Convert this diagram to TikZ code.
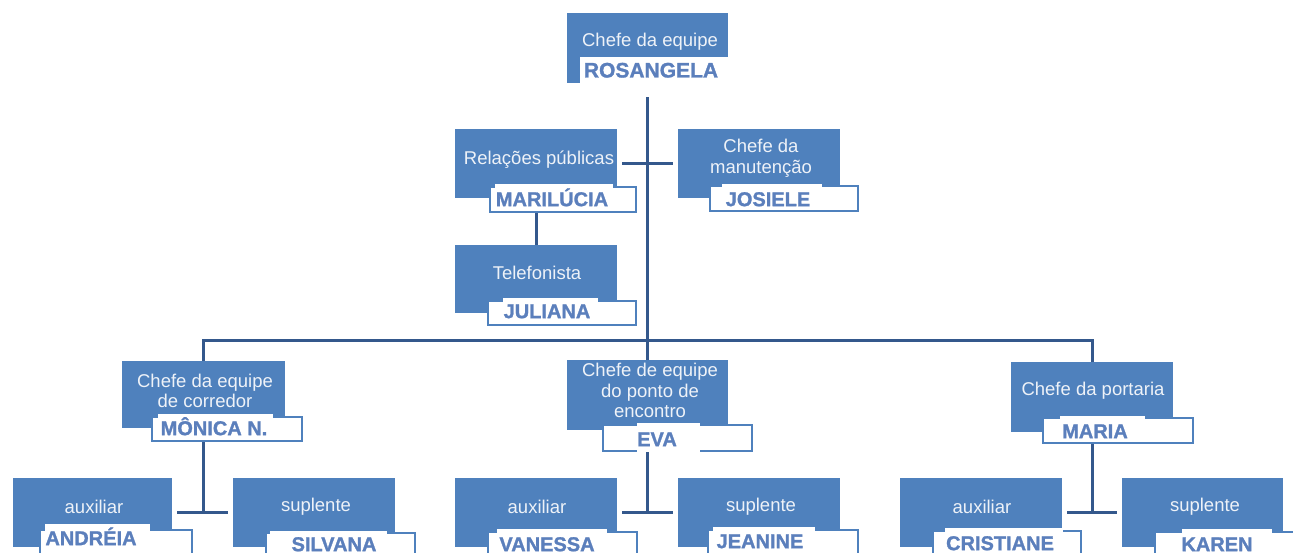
\documentclass[tikz,border=0pt]{standalone}
\usepackage{fontspec}
\setmainfont{Liberation Sans}
\newfontfamily\heavyfont[FakeBold=1.3]{Liberation Sans Bold}
\usetikzlibrary{fit}
\definecolor{boxblue}{HTML}{4F81BD}
\definecolor{namecol}{HTML}{5B7FBC}
\definecolor{linecol}{HTML}{34588C}
\definecolor{jobcol}{HTML}{EEF2F8}
\newcommand\jobsize{\fontsize{18.5}{20.5}\selectfont}
\newcommand\namesize{\fontsize{20}{22}\selectfont\heavyfont}
\begin{document}
\begin{tikzpicture}[x=1pt,y=-1pt,
  bluebox/.style={fill=boxblue, draw=none, inner sep=0pt},
  offbox/.style={fill=white, draw=boxblue, line width=2.5pt, inner sep=0pt},
  patch/.style={fill=white, draw=none, inner sep=0pt},
  jobtxt/.style={text=jobcol, font=\jobsize, align=center, inner sep=0pt},
  nametxt/.style={text=namecol, font=\namesize, inner sep=0pt, text height=14.3pt, text depth=0pt},
  conn/.style={draw=linecol, line width=3pt}]
\useasboundingbox (0,0) rectangle (1293,553);
\clip (0,0) rectangle (1293,553);

% top
\node[bluebox, fit={(567,13) (728,83)}] (top) {};
\node[patch, fit={(580,57) (731,86)}] (topP) {};
\node[jobtxt] (topT) at (650,42) {Chefe da equipe};
\node[nametxt, font=\fontsize{21}{23}\selectfont\heavyfont, text height=15pt] (topN) at (651,70) {ROSANGELA};

% relacoes publicas
\node[bluebox, fit={(455,129) (617,198)}] (rel) {};
\node[offbox, fit={(490,187) (636,212)}] (relB) {};
\node[patch, fit={(495,184) (613,210)}] (relP) {};
\node[jobtxt] (relT) at (539,160) {Relações públicas};
\node[nametxt] (relN) at (552,199) {MARILÚCIA};

% manutencao
\node[bluebox, fit={(678,129) (840,198)}] (man) {};
\node[offbox, fit={(710,186) (858,211)}] (manB) {};
\node[patch, fit={(722,184) (822,209)}] (manP) {};
\node[jobtxt] (manT) at (761,158.5) {Chefe da\\manutenção};
\node[nametxt] (manN) at (768,199) {JOSIELE};

% telefonista
\node[bluebox, fit={(455,245) (617,313)}] (tel) {};
\node[offbox, fit={(488,301) (636,325)}] (telB) {};
\node[patch, fit={(503,298) (598,322)}] (telP) {};
\node[jobtxt] (telT) at (537,273) {Telefonista};
\node[nametxt] (telN) at (547,311) {JULIANA};

% corredor
\node[bluebox, fit={(122,361) (285,428)}] (corr) {};
\node[offbox, fit={(152,417) (302,441)}] (corrB) {};
\node[patch, fit={(158,414) (273,440)}] (corrP) {};
\node[jobtxt] (corrT) at (205,391) {Chefe da equipe\\de corredor};
\node[nametxt] (corrN) at (214,428) {MÔNICA N.};

% ponto de encontro
\node[bluebox, fit={(567,360) (728,430)}] (eva) {};
\node[offbox, fit={(603,425) (752,451)}] (evaB) {};
\node[patch, fit={(637,423) (700,452)}] (evaP) {};
\node[jobtxt] (evaT) at (650,390.5) {Chefe de equipe\\do ponto de\\encontro};
\node[nametxt] (evaN) at (657,439) {EVA};

% portaria
\node[bluebox, fit={(1011,362) (1173,432)}] (maria) {};
\node[offbox, fit={(1043,418) (1193,443)}] (mariaB) {};
\node[patch, fit={(1060,416) (1145,442)}] (mariaP) {};
\node[jobtxt] (mariaT) at (1093,391) {Chefe da portaria};
\node[nametxt] (mariaN) at (1095,431) {MARIA};

% bottom row
\node[bluebox, fit={(13,478) (172,547)}] (and) {};
\node[offbox, fit={(40,530) (192,562)}] (andB) {};
\node[patch, fit={(45,524) (150,556)}] (andP) {};
\node[jobtxt] (andT) at (94,507) {auxiliar};
\node[nametxt] (andN) at (91,538) {ANDRÉIA};

\node[bluebox, fit={(233,478) (395,547)}] (sil) {};
\node[offbox, fit={(266,533) (415,562)}] (silB) {};
\node[patch, fit={(270,531) (387,556)}] (silP) {};
\node[jobtxt] (silT) at (316,507) {suplente};
\node[nametxt] (silN) at (334,544) {SILVANA};

\node[bluebox, fit={(455,478) (617,547)}] (van) {};
\node[offbox, fit={(488,532) (637,562)}] (vanB) {};
\node[patch, fit={(497,529) (607,556)}] (vanP) {};
\node[jobtxt] (vanT) at (537,507) {auxiliar};
\node[nametxt] (vanN) at (547,544) {VANESSA};

\node[bluebox, fit={(678,478) (840,547)}] (jea) {};
\node[offbox, fit={(708,530) (858,562)}] (jeaB) {};
\node[patch, fit={(713,527) (815,556)}] (jeaP) {};
\node[jobtxt] (jeaT) at (761,507) {suplente};
\node[nametxt] (jeaN) at (760,541) {JEANINE};

\node[bluebox, fit={(900,478) (1062,547)}] (cri) {};
\node[offbox, fit={(933,531) (1081,562)}] (criB) {};
\node[patch, fit={(945,528) (1063,556)}] (criP) {};
\node[jobtxt] (criT) at (982,507) {auxiliar};
\node[nametxt] (criN) at (1000,543) {CRISTIANE};

\node[bluebox, fit={(1122,478) (1283,547)}] (kar) {};
\node[offbox, fit={(1155,532) (1302,562)}] (karB) {};
\node[patch, fit={(1182,529) (1272,556)}] (karP) {};
\node[jobtxt] (karT) at (1205,507) {suplente};
\node[nametxt] (karN) at (1217,544) {KAREN};

% connectors
\coordinate (t0) at ([yshift=-14pt]top.south);
\coordinate (bus) at (647.5,340);
\draw[conn] (t0) -- (eva.north);
\draw[conn] (corr.north) |- (bus) -| (maria.north);
\draw[conn] ([xshift=5pt]rel.east) -- ([xshift=-5pt]man.west);
\draw[conn] (relB.south -| tel.north) -- (tel.north);
\draw[conn] (corrB.south -| corr.south) -- (corr.south |- and.east);
\draw[conn] ([xshift=5pt]and.east) -- ([xshift=-5pt]sil.west);
\draw[conn] (evaB.south -| eva.south) -- (eva.south |- van.east);
\draw[conn] ([xshift=5pt]van.east) -- ([xshift=-5pt]jea.west);
\draw[conn] (mariaB.south -| maria.south) -- (maria.south |- cri.east);
\draw[conn] ([xshift=5pt]cri.east) -- ([xshift=-5pt]kar.west);
\end{tikzpicture}
\end{document}
